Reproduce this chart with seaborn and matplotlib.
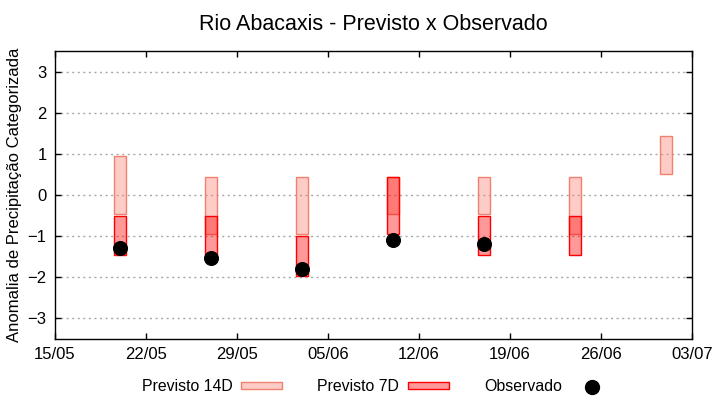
import numpy as np
import pandas as pd
import matplotlib
matplotlib.use('Agg')
import matplotlib.pyplot as plt
import matplotlib.dates as mdates
from matplotlib.patches import Patch
from matplotlib.lines import Line2D
import seaborn as sns

# data
datas = ['2024-05-20', '2024-05-27', '2024-06-03', '2024-06-10',
         '2024-06-17', '2024-06-24', '2024-07-01']
prev14_min = [-0.45, -0.96, -0.96, -0.45, -0.45, -0.96, 0.50]
prev14_max = [0.95, 0.43, 0.43, 0.43, 0.43, 0.43, 1.44]
prev7_min = [-1.45, -1.45, -1.96, -0.96, -1.45, -1.45, np.nan]
prev7_max = [-0.52, -0.52, -1.00, 0.43, -0.52, -0.52, np.nan]
observado = [-1.30, -1.52, -1.80, -1.10, -1.20, np.nan, np.nan]

df = pd.DataFrame({
    'data': pd.to_datetime(datas),
    'p14_min': prev14_min, 'p14_max': prev14_max,
    'p7_min': prev7_min, 'p7_max': prev7_max,
    'obs': observado,
})

sns.set_theme(style='white')
plt.rcParams['font.family'] = ['Liberation Sans', 'DejaVu Sans']
plt.rcParams['text.color'] = 'black'
plt.rcParams['axes.labelcolor'] = 'black'

fig = plt.figure(figsize=(7.2, 4.0), dpi=100)
ax = fig.add_axes([0.0764, 0.1525, 0.8847, 0.72])

x = mdates.date2num(df['data'])
w = 0.92

# Previsto 14D
ax.bar(x, df['p14_max'] - df['p14_min'], bottom=df['p14_min'], width=w,
       color='#fa8072', alpha=0.4, edgecolor='none', zorder=2)
ax.bar(x, df['p14_max'] - df['p14_min'], bottom=df['p14_min'], width=w,
       color='none', edgecolor='#f08070', linewidth=1.0, zorder=2)
# Previsto 7D
ax.bar(x, df['p7_max'] - df['p7_min'], bottom=df['p7_min'], width=w,
       color='#ff0000', alpha=0.4, edgecolor='none', zorder=3)
ax.bar(x, df['p7_max'] - df['p7_min'], bottom=df['p7_min'], width=w,
       color='none', edgecolor='#ff0000', linewidth=1.0, zorder=3)

# Observado
obs = df.dropna(subset=['obs'])
sns.scatterplot(x=mdates.date2num(obs['data']), y=obs['obs'], ax=ax,
                color='black', s=100, marker='o', edgecolor='black', zorder=4)

ax.set_xlim(mdates.date2num(pd.Timestamp('2024-05-15')),
            mdates.date2num(pd.Timestamp('2024-07-03')))
ax.set_ylim(-3.5, 3.5)
ax.set_yticks(range(-3, 4))
ticks = pd.date_range('2024-05-15', '2024-07-03', freq='7D')
ax.set_xticks(mdates.date2num(ticks))
ax.xaxis.set_major_formatter(mdates.DateFormatter('%d/%m'))

ax.yaxis.grid(True, color='#a8a8a8', linestyle=(0, (1.5, 2.5)), linewidth=1.0)
ax.xaxis.grid(False)
for s in ax.spines.values():
    s.set_color('black')
    s.set_linewidth(1.0)
ax.tick_params(direction='in', length=4, width=1, color='black',
               top=True, right=True, bottom=True, left=True,
               labelsize=12, pad=6, labelcolor='black')
ax.set_xlabel('')
ax.set_ylabel('Anomalia de Precipitação Categorizada', fontsize=12,
              color='black', labelpad=4)
ax.set_title('Rio Abacaxis - Previsto x Observado', fontsize=15.5,
             color='black', pad=15)

handles = [
    Patch(facecolor='#fdccc7', edgecolor='#f08070', linewidth=1.0),
    Patch(facecolor='#ff9999', edgecolor='#ff0000', linewidth=1.0),
    Line2D([], [], marker='o', color='black', linestyle='none', markersize=10),
]
fig.legend(handles, ['Previsto 14D', 'Previsto 7D', 'Observado'],
           loc='center', bbox_to_anchor=(0.5235, 0.033), ncol=3,
           markerfirst=False, frameon=False, fontsize=11.4,
           handlelength=2.6, handleheight=0.35, handletextpad=0.57,
           columnspacing=2.2)

fig.savefig('out.png', dpi=100)
